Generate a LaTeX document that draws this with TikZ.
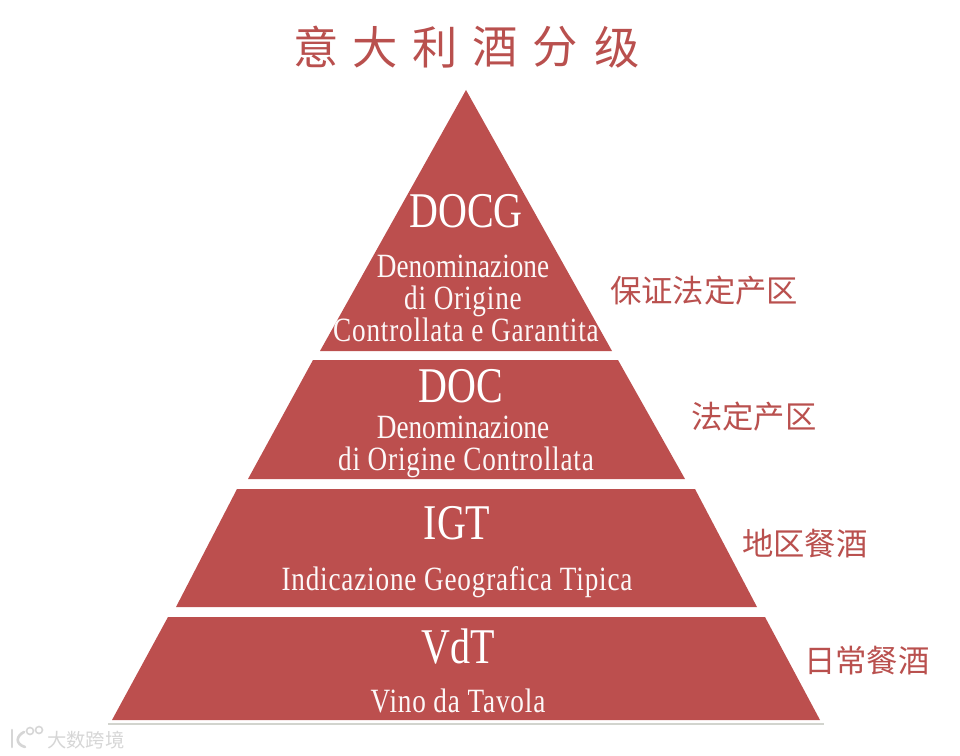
\documentclass[tikz,border=0pt]{standalone}
\usepackage{fontspec}
\usepackage{xcolor}
\setmainfont{Liberation Serif}
\newfontfamily\labelfont[FakeStretch=0.8]{Liberation Serif}
\newfontfamily\spacedfont[FakeStretch=0.8,LetterSpace=2.4]{Liberation Serif}
\newfontfamily\cjkfont{Noto Sans CJK SC}
\definecolor{winered}{HTML}{BC4F4E}
\definecolor{titlered}{HTML}{B9504E}
\definecolor{shadowgray}{HTML}{D2D4CE}
\definecolor{markgray}{HTML}{D6D6D6}

\begin{document}
\begin{tikzpicture}[
    x=0.75pt, y=-0.75pt,
    tier/.style={fill=winered, draw=none},
    bigname/.style={
        anchor=base, inner sep=0pt, text=white,
        font=\labelfont\fontsize{37.5}{40}\selectfont
    },
    fullname/.style={
        anchor=base, inner sep=0pt, text=white!96!winered,
        font=\spacedfont\fontsize{25.5}{28}\selectfont
    },
    tightname/.style={
        fullname, font=\labelfont\fontsize{25.5}{28}\selectfont
    },
    titlechar/.style={
        inner sep=0pt, text=titlered,
        font=\cjkfont\fontsize{34}{36}\selectfont
    },
    sidelabel/.style={
        anchor=west, inner sep=0pt, text=titlered,
        font=\cjkfont\fontsize{23.5}{26}\selectfont
    },
    watermark/.style={
        anchor=west, inner sep=0pt, text=markgray,
        font=\cjkfont\fontsize{14.5}{16}\selectfont
    },
    logoline/.style={draw=markgray, line width=2pt, line cap=round}
]

\useasboundingbox (0,0) rectangle (960,756);

\draw[shadowgray, line width=0.8pt] (108,724) -- (824,724);
\fill[tier] (466,90) -- (612,351) -- (320,351) -- cycle;
\fill[tier] (313,360) -- (618,360) -- (685,479) -- (248,479) -- cycle;
\fill[tier] (237,489) -- (695,489) -- (757,607) -- (176,607) -- cycle;
\fill[tier] (168,617) -- (765,617) -- (820,720) -- (112,720) -- cycle;

\foreach \i/\xpos/\lbl in {
    0/316/意,
    1/375/大,
    2/435/利,
    3/495/酒,
    4/555/分,
    5/617/级
} {
    \node[titlechar] (T\i) at (\xpos,47) {\lbl};
}

\foreach \i/\xpos/\ypos/\lbl in {
    0/466/228/DOCG,
    1/461/402/DOC,
    2/457/539/IGT,
    3/458/663/VdT
} {
    \node[bigname] (N\i) at (\xpos,\ypos) {\lbl};
}

\foreach \i/\xpos/\ypos/\lbl in {
    0/463/277/Denominazione,
    1/463/438/Denominazione
} {
    \node[tightname] (D\i) at (\xpos,\ypos) {\lbl};
}

\foreach \i/\xpos/\ypos/\lbl in {
    0/463/309/di Origine,
    1/466/341/Controllata e Garantita,
    2/466/470/di Origine Controllata,
    3/457/590/Indicazione Geografica Tipica,
    4/458/712/Vino da Tavola
} {
    \node[fullname] (F\i) at (\xpos,\ypos) {\lbl};
}

\foreach \i/\xpos/\ypos/\lbl in {
    0/610/291/保证法定产区,
    1/691/417/法定产区,
    2/742/544/地区餐酒,
    3/804/661/日常餐酒
} {
    \node[sidelabel] (S\i) at (\xpos,\ypos) {\lbl};
}

\node[watermark] (mark) at (47,740) {大数跨境};

\draw[logoline] (12,730) -- (12,747);
\draw[logoline] (24,732) .. controls (16,736) and (15,744) .. (25,747);
\draw[logoline, line width=1.2pt] (30,731) circle (3.5);
\draw[logoline, line width=1.2pt] (39,730) circle (3.5);

\end{tikzpicture}
\end{document}
